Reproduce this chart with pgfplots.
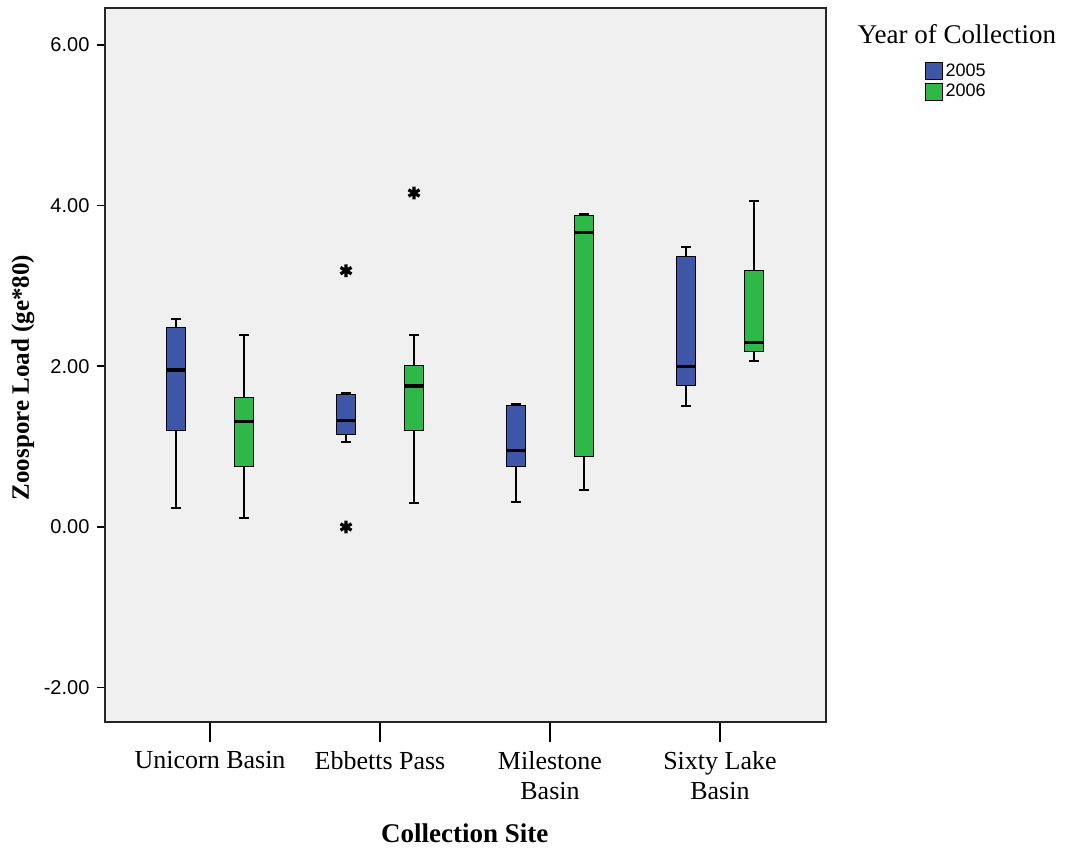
\documentclass[border=0pt]{standalone}
\usepackage{pgfplots}
\pgfplotsset{compat=1.18}
\usepgfplotslibrary{statistics}
\usepackage{fontspec}
\setmainfont{Liberation Serif}
\newfontfamily\arialfont{Liberation Sans}
\definecolor{spssblue}{RGB}{62,86,168}
\definecolor{spssgreen}{RGB}{46,184,72}
\definecolor{bggray}{RGB}{240,240,240}
\begin{document}
\begin{tikzpicture}
\path[use as bounding box] (0,0) rectangle (532.5pt,-427pt);
\begin{axis}[
  at={(52.5pt,-361pt)}, anchor=south west,
  width=360.5pt, height=357pt, scale only axis,
  clip=false,
  xmin=0.382, xmax=4.624, ymin=-2.427, ymax=6.459,
  axis background/.style={fill=bggray},
  axis line style={line width=0.8pt, black!85},
  tick align=outside,
  xtick pos=lower, ytick pos=left,
  xtick={1,2,3,4},
  xticklabels={Unicorn Basin, Ebbetts Pass, Milestone\\Basin, Sixty Lake\\Basin},
  xticklabel style={align=center, font=\fontsize{13}{15}\selectfont, yshift=-7pt},
  xtick style={/pgfplots/major tick length=10pt, line width=0.8pt, black},
  ytick={-2,0,2,4,6},
  ytick style={/pgfplots/major tick length=4pt, line width=0.8pt, black},
  yticklabel style={font=\arialfont\fontsize{10}{10}\selectfont,
    /pgf/number format/fixed, /pgf/number format/fixed zerofill,
    /pgf/number format/precision=2, /pgf/number format/assume math mode=true},
  xlabel={\textbf{Collection Site}},
  xlabel style={font=\fontsize{13.5}{14}\selectfont, at={(axis description cs:0.499,-0.1555)}, anchor=center},
  ylabel={\textbf{Zoospore Load (ge*80)}},
  ylabel style={font=\fontsize{12.5}{13}\selectfont, at={(axis description cs:-0.1137,0.4825)}, anchor=center, rotate=0},
  boxplot/draw direction=y,
  boxplot/every median/.style={line width=1.8pt, draw=black},
  boxplot/every whisker/.style={line width=1pt, draw=black},
  boxplot/every box/.style={line width=0.5pt, draw=black},
  legend style={at={(axis description cs:1.137,0.926)}, anchor=north west,
    draw=none, fill=none, inner sep=0pt, row sep=0pt,
    font=\arialfont\fontsize{9}{10}\selectfont,
    nodes={inner sep=1.2pt}},
  legend cell align=left,
]
% Unicorn Basin
\addplot[forget plot, draw=black, fill=spssblue, mark=asterisk, mark options={black, line width=1.6pt}, mark size=3.2pt,
  boxplot prepared={draw position=0.8, lower whisker=0.233, lower quartile=1.199, median=1.954, upper quartile=2.485, upper whisker=2.585, box extend=0.108, whisker extend=0.06}] coordinates {};
\addplot[forget plot, draw=black, fill=spssgreen, mark=asterisk, mark options={black, line width=1.6pt}, mark size=3.2pt,
  boxplot prepared={draw position=1.2, lower whisker=0.108, lower quartile=0.751, median=1.311, upper quartile=1.614, upper whisker=2.394, box extend=0.108, whisker extend=0.06}] coordinates {};
% Ebbetts Pass
\addplot[forget plot, draw=black, fill=spssblue, mark=asterisk, mark options={black, line width=1.6pt}, mark size=3.2pt,
  boxplot prepared={draw position=1.8, lower whisker=1.054, lower quartile=1.153, median=1.323, upper quartile=1.643, upper whisker=1.672, box extend=0.108, whisker extend=0.06}] table[row sep=\\, y index=0] {3.19\\ 0.0\\};
\addplot[forget plot, draw=black, fill=spssgreen, mark=asterisk, mark options={black, line width=1.6pt}, mark size=3.2pt,
  boxplot prepared={draw position=2.2, lower whisker=0.299, lower quartile=1.199, median=1.755, upper quartile=2.016, upper whisker=2.394, box extend=0.108, whisker extend=0.06}] table[row sep=\\, y index=0] {4.157\\};
% Milestone Basin
\addplot[forget plot, draw=black, fill=spssblue, mark=asterisk, mark options={black, line width=1.6pt}, mark size=3.2pt,
  boxplot prepared={draw position=2.8, lower whisker=0.315, lower quartile=0.751, median=0.95, upper quartile=1.51, upper whisker=1.535, box extend=0.108, whisker extend=0.06}] coordinates {};
\addplot[forget plot, draw=black, fill=spssgreen, mark=asterisk, mark options={black, line width=1.6pt}, mark size=3.2pt,
  boxplot prepared={draw position=3.2, lower whisker=0.46, lower quartile=0.875, median=3.663, upper quartile=3.875, upper whisker=3.89, box extend=0.108, whisker extend=0.06}] coordinates {};
% Sixty Lake Basin
\addplot[forget plot, draw=black, fill=spssblue, mark=asterisk, mark options={black, line width=1.6pt}, mark size=3.2pt,
  boxplot prepared={draw position=3.8, lower whisker=1.502, lower quartile=1.767, median=1.995, upper quartile=3.364, upper whisker=3.485, box extend=0.108, whisker extend=0.06}] coordinates {};
\addplot[forget plot, draw=black, fill=spssgreen, mark=asterisk, mark options={black, line width=1.6pt}, mark size=3.2pt,
  boxplot prepared={draw position=4.2, lower whisker=2.07, lower quartile=2.19, median=2.294, upper quartile=3.186, upper whisker=4.061, box extend=0.108, whisker extend=0.06}] coordinates {};
\addlegendimage{legend image code/.code={\draw[draw=black, fill=spssblue, line width=0.5pt] (0pt,-4.25pt) rectangle (8.5pt,4.25pt);}}
\addlegendentry{2005}
\addlegendimage{legend image code/.code={\draw[draw=black, fill=spssgreen, line width=0.5pt] (0pt,-4.25pt) rectangle (8.5pt,4.25pt);}}
\addlegendentry{2006}
\node[font=\fontsize{13.5}{14}\selectfont] at (rel axis cs:1.1817,0.9636) {Year of Collection};
\end{axis}
\end{tikzpicture}
\end{document}
